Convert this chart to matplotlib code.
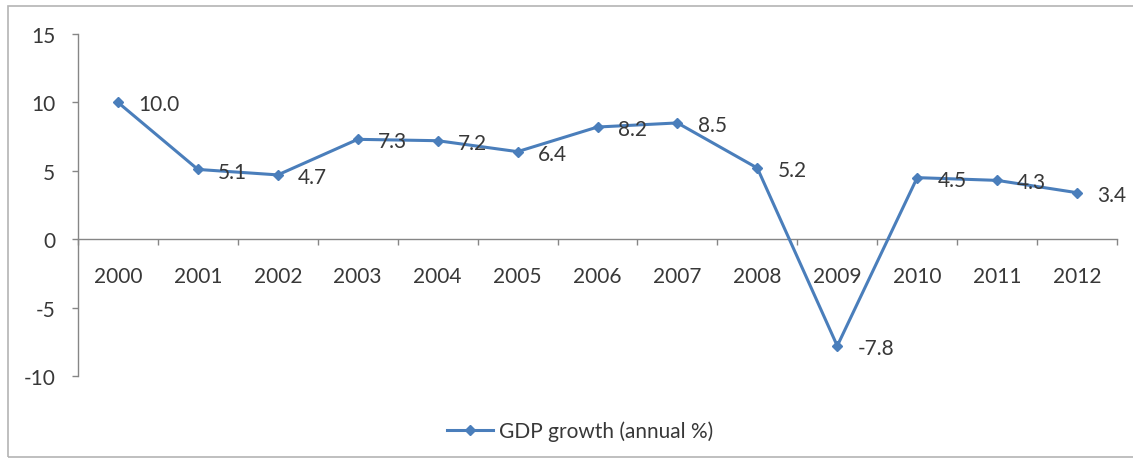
import matplotlib
matplotlib.use("Agg")
import matplotlib.pyplot as plt
from matplotlib.lines import Line2D
from matplotlib.patches import Rectangle

plt.rcParams.update({"font.family": ["Lato", "DejaVu Sans"], "font.size": 15})

years = ["2000", "2001", "2002", "2003", "2004", "2005", "2006",
         "2007", "2008", "2009", "2010", "2011", "2012"]
gdp_growth = [10.0, 5.1, 4.7, 7.3, 7.2, 6.4, 8.2, 8.5, 5.2, -7.8, 4.5, 4.3, 3.4]
y_ticks = [-10, -5, 0, 5, 10, 15]
series_name = "GDP growth (annual %)"
title = "Figure 1, GDP Growth (annual %), Russia for the period 2000-2012"

LINE = "#4A7EBB"
AXIS = "#868686"
TEXT = "#383838"

W, H = 1133, 464
fig = plt.figure(figsize=(W / 100, H / 100), dpi=100)

# outer chart frame (right edge runs off the image)
fig.patches.append(Rectangle((8 / W, 1 - 458 / H), (W + 4 - 8) / W, (458 - 7) / H,
                             transform=fig.transFigure, fill=False,
                             edgecolor="#b4b4b4", lw=1.2))
# caption cut off by the top edge of the image
fig.text(186 / W, 1 + 6 / H, title, family="Liberation Serif", weight="bold",
         fontsize=19.4, va="baseline", ha="left", color="black")

ax = fig.add_axes([78 / W, 1 - 377 / H, (1117 - 78) / W, (377 - 35) / H])
x = list(range(len(years)))
ax.plot(x, gdp_growth, color=LINE, lw=2.2, marker="D", ms=5.5,
        markerfacecolor=LINE, markeredgecolor=LINE, zorder=3)
for xi, v in zip(x, gdp_growth):
    ax.annotate(f"{v:.1f}", (xi, v), xytext=(14.5, -1.5), textcoords="offset points",
                ha="left", va="center", color=TEXT, fontsize=15)

ax.set_xlim(-0.5, len(years) - 0.5)
ax.set_ylim(-10, 15)
ax.set_yticks(y_ticks)
ax.set_yticklabels([str(t) for t in y_ticks])
ax.set_xticks(x)
ax.set_xticklabels(years)
ax.set_xticks([i - 0.5 for i in range(len(years) + 1)], minor=True)

for s in ("top", "right"):
    ax.spines[s].set_visible(False)
ax.spines["bottom"].set_position(("data", 0))
ax.spines["bottom"].set_color(AXIS)
ax.spines["left"].set_color(AXIS)
ax.spines["bottom"].set_linewidth(1.0)
ax.spines["left"].set_linewidth(1.0)

ax.tick_params(axis="y", length=4.3, width=1, color=AXIS, pad=12, labelcolor=TEXT)
ax.tick_params(axis="x", which="major", length=0, pad=19, labelcolor=TEXT)
ax.tick_params(axis="x", which="minor", length=4.3, width=1, color=AXIS, direction="out")
ax.patch.set_alpha(0)

handle = Line2D([], [], color=LINE, lw=2.2, marker="D", ms=5.5)
fig.legend([handle], [series_name], loc="center", bbox_to_anchor=(580 / W, 1 - 432 / H),
           frameon=False, handlelength=2.2, handletextpad=0.3, fontsize=15,
           labelcolor=TEXT)

fig.savefig("out.png", dpi=100)
